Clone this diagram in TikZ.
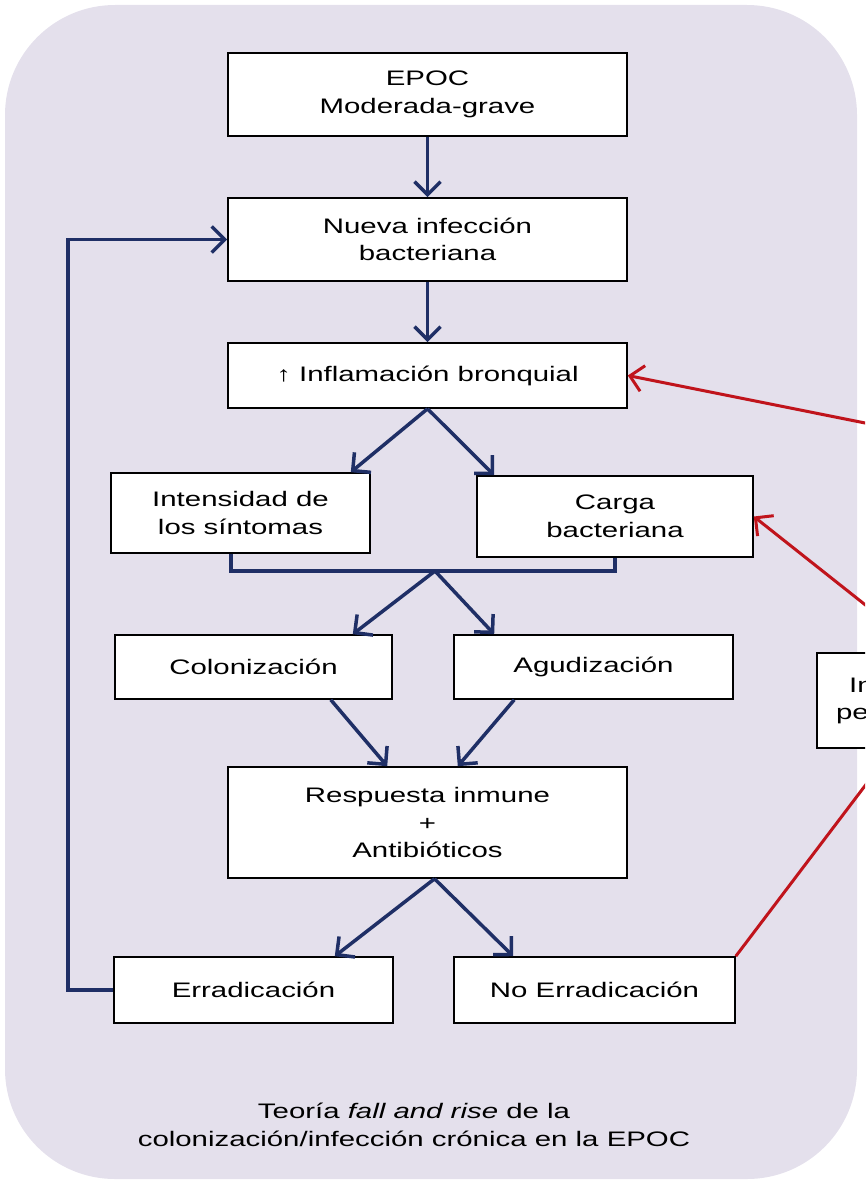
\documentclass[tikz,border=0pt]{standalone}
\usepackage{fontspec}
\setmainfont{Liberation Sans}[FakeStretch=1.4]
\usetikzlibrary{calc, arrows.meta}

\definecolor{bgcol}{HTML}{E4E0EC}
\definecolor{flowblue}{HTML}{1F2F66}
\definecolor{flowred}{HTML}{C0141C}

\tikzset{
  box/.style={rectangle, draw=black, line width=1.6pt, fill=white, align=center, inner sep=0pt},
  blueline/.style={draw=flowblue, line width=3.5pt},
  bluearrow/.style={blueline, -{Straight Barb[length=13pt, width=26pt, line width=3.5pt]}},
  redline/.style={draw=flowred, line width=3pt},
  redarrow/.style={redline, -{Straight Barb[length=13pt, width=26pt, line width=3pt]}}
}

\begin{document}
\begin{tikzpicture}[x=1pt, y=-1pt, font=\fontsize{21}{27.5}\selectfont]
  \useasboundingbox (0,0) rectangle (865,1182);
  \clip (0,0) rectangle (865,1182);
  % Background panel
  \fill[bgcol, rounded corners=110pt] (5,5) rectangle (857,1179);

  % Draw the boxes.
  \node at (427.5,94.5) [box, minimum width=399pt, minimum height=83pt] (epoc) {EPOC\\Moderada-grave};
  \node[box, below of=epoc, node distance=145pt, minimum width=399pt, minimum height=83pt] (nueva) {Nueva infección\\bacteriana};
  \node[box, below of=nueva, node distance=136pt, minimum width=399pt, minimum height=65pt] (inflam) {↑ Inflamación bronquial};
  \node at (240.5,513) [box, minimum width=259pt, minimum height=80pt] (intens) {Intensidad de\\los síntomas};
  \node at (615,516.5) [box, minimum width=276pt, minimum height=81pt] (carga) {Carga\\bacteriana};
  \node at (253.5,667) [box, minimum width=277pt, minimum height=64pt] (colon) {Colonización};
  \node at (593.5,667) [box, minimum width=279pt, minimum height=64pt] (agud) {Agudización};
  \node at (427.5,822.5) [box, minimum width=399pt, minimum height=111pt] (resp) {Respuesta inmune\\+\\Antibióticos};
  \node at (253.5,990) [box, minimum width=279pt, minimum height=66pt] (errad) {Erradicación};
  \node at (594.5,990) [box, minimum width=281pt, minimum height=66pt] (noerr) {No Erradicación};
  \node at (908,700.5) [box, minimum width=182pt, minimum height=95pt] (persist) {Infección\\persistente};
  \node at (414,1125) [align=center] (caption) {Teoría \textit{fall and rise} de la\\colonización/infección crónica en la EPOC};

  % Connect boxes with arrows
  \draw[bluearrow] (epoc) -- (nueva);
  \draw[bluearrow] (nueva) -- (inflam);
  \draw[bluearrow] (inflam.south) -- ($(intens.north east)+(-20,0)$);
  \draw[bluearrow] (inflam.south) -- ($(carga.north west)+(18,0)$);
  \coordinate (join) at (435,571);
  \draw[blueline] ($(intens.south west)+(121,0)$) |- (join) -| (carga.south);
  \draw[bluearrow] (join) -- ($(colon.north east)+(-40,0)$);
  \draw[bluearrow] (join) -- ($(agud.north west)+(41,0)$);
  \draw[bluearrow] ($(colon.south east)+(-62,0)$) -- ($(resp.north west)+(160,0)$);
  \draw[bluearrow] ($(agud.south west)+(61,0)$) -- ($(resp.north east)+(-170,0)$);
  \draw[bluearrow] ($(resp.south)+(7,0)$) -- ($(errad.north east)+(-59,0)$);
  \draw[bluearrow] ($(resp.south)+(7,0)$) -- ($(noerr.north west)+(60,0)$);
  \draw[bluearrow] (errad.west) -- ++(-45,0) |- (nueva.west);

  % Red links to the persistent box
  \coordinate (offright) at (1000,450);
  \draw[redarrow] (offright) -- (inflam.east);
  \draw[redarrow] ($(persist.north)+(17,0)$) -- (carga.east);
  \draw[redline] (noerr.north east) -- ($(persist.south)+(-15,0)$);
\end{tikzpicture}
\end{document}
